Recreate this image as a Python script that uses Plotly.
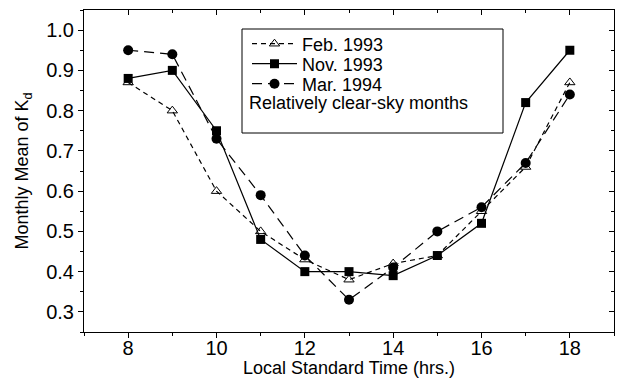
import plotly.graph_objects as go

hours = [8, 9, 10, 11, 12, 13, 14, 15, 16, 17, 18]
feb_1993 = [0.87, 0.80, 0.60, 0.50, 0.43, 0.38, 0.42, 0.44, 0.55, 0.66, 0.87]
nov_1993 = [0.88, 0.90, 0.75, 0.48, 0.40, 0.40, 0.39, 0.44, 0.52, 0.82, 0.95]
mar_1994 = [0.95, 0.94, 0.73, 0.59, 0.44, 0.33, 0.41, 0.50, 0.56, 0.67, 0.84]

x_ticks = [8, 10, 12, 14, 16, 18]
y_ticks = [0.3, 0.4, 0.5, 0.6, 0.7, 0.8, 0.9, 1.0]
y_labels = ["0.3", "0.4", "0.5", "0.6", "0.7", "0.8", "0.9", "1.0"]

FONT = "Liberation Sans, Arial, sans-serif"

L, R, T, B = 84, 7, 10, 46
W, H = 621, 378
PW, PH = W - L - R, H - T - B


def px(x):
    return (x - L) / PW


def py(y):
    return (H - B - y) / PH


fig = go.Figure()
fig.add_trace(go.Scatter(
    x=hours, y=feb_1993, name="Feb. 1993", mode="lines+markers", legend="legend",
    line=dict(color="black", width=1.2, dash="5px,4px"),
    marker=dict(symbol="triangle-up-open", size=9, color="black", line=dict(width=1))))
fig.add_trace(go.Scatter(
    x=hours, y=nov_1993, name="Nov. 1993", mode="lines+markers", legend="legend2",
    line=dict(color="black", width=1.2),
    marker=dict(symbol="square", size=9, color="black")))
fig.add_trace(go.Scatter(
    x=hours, y=mar_1994, name="Mar. 1994", mode="lines+markers", legend="legend3",
    xaxis="x2", yaxis="y2",
    line=dict(color="black", width=1.2, dash="10px,6px"),
    marker=dict(symbol="circle", size=10, color="black")))

xr = [7, 19]
yr = [0.25, 1.05]

legend_common = dict(xanchor="left", yanchor="middle", bgcolor="rgba(0,0,0,0)",
                     borderwidth=0, font=dict(size=18, family=FONT), itemwidth=45)
leg_x = px(247)

fig.update_layout(
    width=W, height=H,
    margin=dict(l=L, r=R, t=T, b=B),
    paper_bgcolor="white", plot_bgcolor="white",
    font=dict(family=FONT, color="black", size=18),
    showlegend=True,
    legend=dict(x=leg_x, y=py(44), **legend_common),
    legend2=dict(x=leg_x, y=py(64), **legend_common),
    legend3=dict(x=leg_x, y=py(84), **legend_common),
    xaxis=dict(range=xr, tickvals=x_ticks, ticks="outside", ticklen=5,
               tickwidth=1, tickcolor="black", showline=True, linecolor="black",
               linewidth=1, showgrid=False, zeroline=False, automargin=False,
               tickfont=dict(size=20), ticklabelstandoff=-7,
               minor=dict(dtick=1, tick0=7, ticks="outside", ticklen=3, tickcolor="black", showgrid=False),
               title=dict(text="Local Standard Time (hrs.)", font=dict(size=18), standoff=7)),
    yaxis=dict(range=yr, tickvals=y_ticks, ticktext=y_labels, ticks="outside", ticklen=5,
               tickwidth=1, tickcolor="black", showline=True, linecolor="black",
               linewidth=1, showgrid=False, zeroline=False, automargin=False,
               tickfont=dict(size=20),
               minor=dict(dtick=0.05, tick0=0.25, ticks="outside", ticklen=3, tickcolor="black", showgrid=False),
               title=dict(text="Monthly Mean of K<sub>d</sub>", font=dict(size=18), standoff=12)),
    xaxis2=dict(overlaying="x", side="top", range=xr, tickvals=x_ticks, ticks="inside",
                ticklen=5, tickcolor="black", showticklabels=False, showline=True,
                linecolor="black", linewidth=1, showgrid=False, zeroline=False, automargin=False,
                minor=dict(dtick=1, tick0=7, ticks="inside", ticklen=3, tickcolor="black", showgrid=False)),
    yaxis2=dict(overlaying="y", side="right", range=yr, tickvals=y_ticks, ticks="inside",
                ticklen=5, tickcolor="black", showticklabels=False, showline=True,
                linecolor="black", linewidth=1, showgrid=False, zeroline=False, automargin=False,
                minor=dict(dtick=0.05, tick0=0.25, ticks="inside", ticklen=3, tickcolor="black", showgrid=False)),
)

# legend frame and extra caption line
fig.add_shape(type="rect", xref="paper", yref="paper",
              x0=px(242), x1=px(503), y0=py(133), y1=py(29),
              line=dict(color="black", width=1), fillcolor="rgba(0,0,0,0)")
fig.add_annotation(xref="paper", yref="paper", x=px(247), y=py(103),
                   xanchor="left", yanchor="middle", showarrow=False,
                   text="Relatively clear-sky months", font=dict(size=18))

fig.write_html("out.html", config={"displayModeBar": False},
               post_script="document.body.style.margin='0';document.body.style.overflow='hidden';")
